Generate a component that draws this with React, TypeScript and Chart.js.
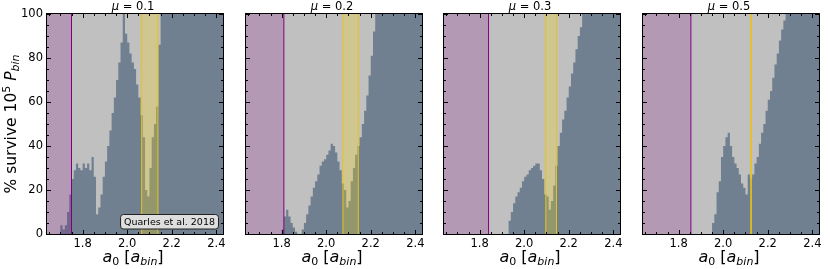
import React, { useEffect, useRef } from "react";
import { Chart, registerables } from "chart.js";

Chart.register(...registerables);

// ---------- data ----------
const binEdges = [
  1.64, 1.65, 1.66, 1.67, 1.68, 1.69, 1.70, 1.71, 1.72, 1.73, 1.74, 1.75, 1.76, 1.77, 1.78, 1.79,
  1.80, 1.81, 1.82, 1.83, 1.84, 1.85, 1.86, 1.87, 1.88, 1.89, 1.90, 1.91, 1.92, 1.93, 1.94, 1.95,
  1.96, 1.97, 1.98, 1.99, 2.00, 2.01, 2.02, 2.03, 2.04, 2.05, 2.06, 2.07, 2.08, 2.09, 2.10, 2.11,
  2.12, 2.13, 2.14, 2.15, 2.16, 2.17, 2.18, 2.19, 2.20, 2.21, 2.22, 2.23, 2.24, 2.25, 2.26, 2.27,
  2.28, 2.29, 2.30, 2.31, 2.32, 2.33, 2.34, 2.35, 2.36, 2.37, 2.38, 2.39, 2.40, 2.41, 2.42, 2.43,
];

const surviveMu01 = [
  0, 0, 0, 0, 0, 0, 4, 2, 4, 10, 18,
  25, 29, 32, 30, 29, 32, 30, 32, 29, 35, 26,
  9, 12, 18, 26, 33, 40, 47, 55, 62, 70, 78, 87, 100,
  91, 87, 82, 78, 75, 68, 62, 54,
  44, 20, 17, 30, 44, 50, 58,
  86,
  100, 100, 100, 100, 100, 100, 100, 100, 100, 100, 100, 100, 100, 100,
  100, 100, 100, 100, 100, 100, 100, 100, 100, 100, 100, 100, 100, 100,
];

const surviveMu02 = [
  0, 0, 0, 0, 0, 0, 0, 0, 0, 0, 0, 0, 0, 0, 0, 0,
  2, 8, 11, 8, 5, 3, 1, 0, 0, 2,
  5, 9, 13, 17, 21, 24, 27, 31, 33, 34,
  36, 38, 41, 40, 37, 33, 29, 23, 20, 12,
  15, 24, 30, 36, 40, 44, 50, 56, 63, 72,
  81, 92,
  100, 100, 100, 100, 100, 100, 100, 100, 100, 100, 100,
  100, 100, 100, 100, 100, 100, 100, 100, 100, 100,
];

const surviveMu03 = [
  0, 0, 0, 0, 0, 0, 0, 0, 0, 0, 0, 0, 0, 0, 0, 0, 0, 0, 0, 0, 0, 0, 0, 0, 0, 0, 0, 0, 0,
  6, 10, 14, 17, 19, 21, 24, 26, 27, 29,
  30, 31, 32, 32, 29, 25, 18, 17, 11, 15,
  22, 31, 40, 46, 52, 56, 62, 67, 73, 78,
  84, 90, 94,
  100, 100, 100, 100, 100, 100, 100, 100, 100, 100, 100, 100, 100, 100, 100, 100, 100,
];

const surviveMu05 = [
  0, 0, 0, 0, 0, 0, 0, 0, 0, 0, 0, 0, 0, 0, 0, 0, 0, 0, 0, 0, 0, 0, 0, 0, 0, 0, 0, 0, 0, 0, 0,
  5, 9, 19, 24, 35, 40, 44, 46, 40, 35,
  32, 30, 27, 23, 21, 18, 27, 25, 27, 32,
  35, 41, 46, 50, 56, 61, 65, 71, 77, 82,
  88, 93, 97,
  100, 100, 100, 100, 100, 100, 100, 100, 100, 100, 100, 100, 100, 100, 100,
];

const muValues = ["0.1", "0.2", "0.3", "0.5"];
const unstableEdge = [1.75, 1.81, 1.84, 1.855];
const resonanceLow = [2.065, 2.075, 2.097, 2.124];
const resonanceHigh = [2.138, 2.144, 2.145, 2.126];
const xTickValues = [1.8, 2.0, 2.2, 2.4];
const xMinorTicks = [1.65, 1.7, 1.75, 1.85, 1.9, 1.95, 2.05, 2.1, 2.15, 2.25, 2.3, 2.35];
const yTickValues = [0, 20, 40, 60, 80, 100];
const yMinorTicks = [5, 10, 15, 25, 30, 35, 45, 50, 55, 65, 70, 75, 85, 90, 95];
const annotationText = "Quarles et al. 2018";

const seriesList = [surviveMu01, surviveMu02, surviveMu03, surviveMu05];

// ---------- layout / style ----------
const W = 830;
const H = 269;
const PLOT_LEFT = [47, 246, 444, 643];
const PLOT_W = 176;
const PLOT_TOP = 14;
const PLOT_BOTTOM = 234;
const Y_AXIS_W = 47;
const FONT = "'DejaVu Sans', sans-serif";
const COLORS = {
  stable: "#c0c0c0",
  survive: "#708090",
  purpleFill: "rgba(128,0,128,0.2)",
  purpleLine: "#800080",
  yellowFill: "rgba(255,215,0,0.25)",
  yellowLine: "#e8c416",
};

type Part = { t: string; size: number; italic?: boolean; dy?: number };

function drawParts(ctx: CanvasRenderingContext2D, parts: Part[], cx: number, y: number) {
  const widths: number[] = [];
  let total = 0;
  for (const p of parts) {
    ctx.font = `${p.italic ? "italic " : ""}${p.size}px ${FONT}`;
    const w = ctx.measureText(p.t).width;
    widths.push(w);
    total += w;
  }
  let x = cx - total / 2;
  ctx.textAlign = "left";
  ctx.textBaseline = "alphabetic";
  parts.forEach((p, i) => {
    ctx.font = `${p.italic ? "italic " : ""}${p.size}px ${FONT}`;
    ctx.fillText(p.t, x, y + (p.dy || 0));
    x += widths[i];
  });
}

function Panel({ index }: { index: number }) {
  const ref = useRef<HTMLCanvasElement>(null);

  useEffect(() => {
    const canvas = ref.current;
    if (!canvas) return;
    const values = seriesList[index];
    const showY = index === 0;
    const plotLeft = PLOT_LEFT[index];

    const decor = {
      id: "panelDecor" + index,
      beforeDatasetsDraw(chart: any) {
        const { ctx, chartArea: a } = chart;
        ctx.save();
        ctx.fillStyle = COLORS.stable;
        ctx.fillRect(a.left, a.top, a.right - a.left, a.bottom - a.top);
        ctx.restore();
      },
      afterDatasetsDraw(chart: any) {
        const { ctx, chartArea: a, scales } = chart;
        const xs = scales.x;
        ctx.save();
        const pe = xs.getPixelForValue(unstableEdge[index]);
        ctx.fillStyle = COLORS.purpleFill;
        ctx.fillRect(a.left, a.top, pe - a.left, a.bottom - a.top);
        ctx.strokeStyle = COLORS.purpleLine;
        ctx.lineWidth = 1;
        ctx.beginPath();
        ctx.moveTo(pe, a.top);
        ctx.lineTo(pe, a.bottom);
        ctx.stroke();

        const y1 = xs.getPixelForValue(resonanceLow[index]);
        const y2 = xs.getPixelForValue(resonanceHigh[index]);
        ctx.fillStyle = COLORS.yellowFill;
        ctx.fillRect(y1, a.top, y2 - y1, a.bottom - a.top);
        ctx.strokeStyle = COLORS.yellowLine;
        ctx.beginPath();
        ctx.moveTo(y1, a.top);
        ctx.lineTo(y1, a.bottom);
        ctx.moveTo(y2, a.top);
        ctx.lineTo(y2, a.bottom);
        ctx.stroke();
        ctx.restore();
      },
      afterDraw(chart: any) {
        const { ctx, chartArea: a, scales } = chart;
        const xs = scales.x;
        const ys = scales.y;
        const L = a.left, R = a.right, T = a.top, B = a.bottom;
        ctx.save();
        ctx.strokeStyle = "#000";
        ctx.lineWidth = 1;
        ctx.strokeRect(L - 0.5, T - 0.5, R - L + 1, B - T + 1);

        ctx.beginPath();
        const xt = (v: number, len: number) => {
          const px = Math.round(xs.getPixelForValue(v)) + 0.5;
          ctx.moveTo(px, B);
          ctx.lineTo(px, B - len);
          ctx.moveTo(px, T);
          ctx.lineTo(px, T + len);
        };
        const yt = (v: number, len: number) => {
          const py = Math.round(ys.getPixelForValue(v)) + 0.5;
          ctx.moveTo(L, py);
          ctx.lineTo(L + len, py);
          ctx.moveTo(R, py);
          ctx.lineTo(R - len, py);
        };
        xTickValues.forEach((v) => xt(v, 4));
        xMinorTicks.forEach((v) => xt(v, 2));
        yTickValues.forEach((v) => yt(v, 4));
        yMinorTicks.forEach((v) => yt(v, 2));
        ctx.stroke();

        ctx.fillStyle = "#000";
        // title
        drawParts(
          ctx,
          [
            { t: "\u03bc", size: 11.5, italic: true },
            { t: " = ", size: 11.5 },
            { t: muValues[index], size: 11.5 },
          ],
          (L + R) / 2 - 2,
          T - 4
        );
        // x label
        drawParts(
          ctx,
          [
            { t: "a", size: 16, italic: true },
            { t: "0", size: 11, dy: 3 },
            { t: " [", size: 16 },
            { t: "a", size: 16, italic: true },
            { t: "bin", size: 11, italic: true, dy: 3 },
            { t: "]", size: 16 },
          ],
          (L + R) / 2 - 2,
          262
        );
        if (showY) {
          ctx.save();
          ctx.translate(16, (T + B) / 2);
          ctx.rotate(-Math.PI / 2);
          drawParts(
            ctx,
            [
              { t: "% survive 10", size: 15.5 },
              { t: "5", size: 11, dy: -6.5 },
              { t: " ", size: 15.5 },
              { t: "P", size: 15.5, italic: true },
              { t: "bin", size: 11, italic: true, dy: 3 },
            ],
            0,
            0
          );
          ctx.restore();

          // annotation box
          ctx.font = `9.5px ${FONT}`;
          const tw = ctx.measureText(annotationText).width;
          const bw = tw + 7;
          const bh = 14.5;
          const bx = R - 4.5 - bw;
          const by = B - 5 - bh;
          ctx.beginPath();
          ctx.roundRect(bx, by, bw, bh, 3);
          ctx.fillStyle = "#dedede";
          ctx.fill();
          ctx.strokeStyle = "#222";
          ctx.lineWidth = 1;
          ctx.stroke();
          ctx.fillStyle = "#000";
          ctx.textAlign = "center";
          ctx.textBaseline = "middle";
          ctx.fillText(annotationText, bx + bw / 2, by + bh / 2 + 0.5);
        }
        ctx.restore();
      },
    };

    const chart = new Chart(canvas, {
      type: "line",
      data: {
        datasets: [
          {
            data: binEdges.map((x, i) => ({ x, y: values[Math.min(i, values.length - 1)] })),
            stepped: true,
            fill: "origin",
            backgroundColor: COLORS.survive,
            borderColor: "rgba(0,0,0,0)",
            borderWidth: 0,
            pointRadius: 0,
          } as any,
        ],
      },
      options: {
        responsive: false,
        animation: false,
        devicePixelRatio: 1,
        layout: {
          padding: {
            left: showY ? plotLeft - Y_AXIS_W : plotLeft,
            right: W - plotLeft - PLOT_W,
            top: PLOT_TOP,
            bottom: 0,
          },
        },
        plugins: { legend: { display: false }, tooltip: { enabled: false } },
        scales: {
          x: {
            type: "linear",
            min: binEdges[0],
            max: binEdges[binEdges.length - 1],
            grid: { display: false, drawTicks: false },
            border: { display: false },
            afterBuildTicks: (s: any) => {
              s.ticks = xTickValues.map((v) => ({ value: v }));
            },
            afterFit: (s: any) => {
              s.height = H - PLOT_BOTTOM;
            },
            ticks: {
              autoSkip: false,
              maxRotation: 0,
              color: "#000",
              font: { size: 11.5, family: FONT },
              padding: 3,
              callback: (v: any) => Number(v).toFixed(1),
            },
          },
          y: {
            display: showY,
            min: 0,
            max: 100,
            grid: { display: false, drawTicks: false },
            border: { display: false },
            afterBuildTicks: (s: any) => {
              s.ticks = yTickValues.map((v) => ({ value: v }));
            },
            afterFit: (s: any) => {
              s.width = showY ? Y_AXIS_W : 0;
            },
            ticks: { color: "#000", font: { size: 11.5, family: FONT }, padding: 4 },
          },
        },
      } as any,
      plugins: [decor],
    });
    return () => chart.destroy();
  }, [index]);

  return (
    <canvas
      ref={ref}
      width={W}
      height={H}
      style={{ position: "absolute", left: 0, top: 0, width: W, height: H }}
    />
  );
}

export default function App() {
  return (
    <div style={{ position: "absolute", left: 0, top: 0, width: W, height: H, background: "#fff" }}>
      {[0, 1, 2, 3].map((i) => (
        <Panel key={i} index={i} />
      ))}
    </div>
  );
}
